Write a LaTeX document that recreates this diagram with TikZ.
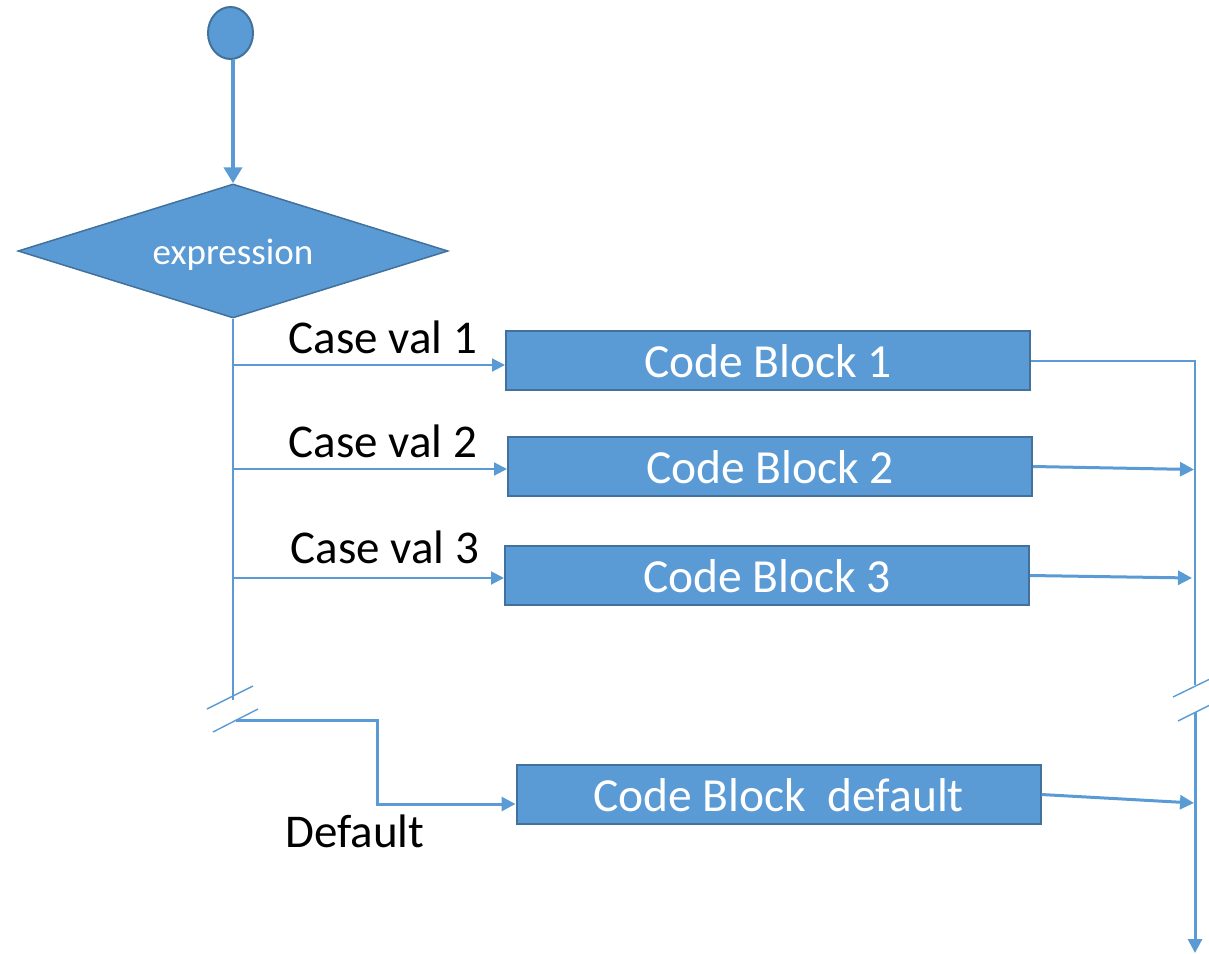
\documentclass[tikz,border=0pt]{standalone}
\usepackage{fontspec}
\setmainfont{Carlito}
\usetikzlibrary{shapes.geometric,arrows.meta}
\definecolor{obl}{HTML}{5B9BD5}
\definecolor{obd}{HTML}{41719C}
\begin{document}
\begin{tikzpicture}[x=1pt,y=-1pt,
  blk/.style={rectangle,fill=obl,draw=obd,line width=2pt,minimum width=524pt,minimum height=59pt,inner sep=0pt,text=white,font=\fontsize{47.5}{50}\selectfont,text height=33pt,text depth=0pt},
  lbl/.style={anchor=base,font=\fontsize{47}{50}\selectfont,inner sep=0pt},
  thinln/.style={draw=obl,line width=1.4pt},
  medln/.style={draw=obl,line width=2pt},
  thickln/.style={draw=obl,line width=3pt},
  tipS/.style={-{Triangle[length=14pt,width=14pt]}},
  tipL/.style={-{Triangle[length=13pt,width=13pt]}},
  brk/.style={draw=obl,line width=1.4pt}
]
\useasboundingbox (0,0) rectangle (1209,953);

% nodes
\node[ellipse,fill=obl,draw=obd,line width=2pt,minimum width=45pt,minimum height=52pt,inner sep=0pt] (start) at (230.5,33) {};
\node[diamond,fill=obl,draw=obd,line width=1.5pt,minimum width=430pt,minimum height=134pt,aspect=3.2,inner sep=0pt,text=white,font=\fontsize{37}{40}\selectfont,text height=26pt,text depth=0pt] (dia) at (233,251) {expression};

\node[blk] (cb1) at (768,360.5) {Code Block 1};
\node[blk] (cb2) at (770,466.5) {Code Block 2};
\node[blk] (cb3) at (767,575.5) {Code Block 3};
\node[blk] (cbd) at (778.5,794.5) {Code Block\ \ default};

\node[lbl] (l1) at (383,353) {Case val 1};
\node[lbl] (l2) at (383,457) {Case val 2};
\node[lbl] (l3) at (385,563) {Case val 3};
\node[lbl] (ld) at (355,847) {Default};

% coordinates
\coordinate (t1) at (233,365);
\coordinate (t2) at (233,469);
\coordinate (t3) at (233,578);
\coordinate (tb) at (233,700);
\coordinate (d0) at (236,720);
\coordinate (d1) at (377,720);
\coordinate (d2) at (377,804);
\coordinate (r1) at (1195,361);
\coordinate (r2) at (1194,469.5);
\coordinate (r3) at (1192,578);
\coordinate (rb) at (1195,685);
\coordinate (rt) at (1195,712);
\coordinate (rd) at (1194,803);
\coordinate (re) at (1195,953);

% start arrow
\draw[draw=obl,line width=4pt,-{Triangle[length=16pt,width=18pt]}] (dia.north |- start.south) -- (dia.north);

% trunk
\draw[thinln] (dia.south) -- (tb);
\draw[medln,tipL] (t1) -- (t1 -| cb1.west);
\draw[medln,tipL] (t2) -- (t2 -| cb2.west);
\draw[medln,tipL] (t3) -- (t3 -| cb3.west);

% left break
\draw[brk] (207,709) -- (253,686);
\draw[brk] (213,732) -- (258,709);

% default path
\draw[thickln,tipS] (d0) -- (d1) -- (d2) -- (d2 -| cbd.west);

% right side
\draw[thinln] (cb1.east |- r1) -- (r1) -- (rb);
\draw[thickln,tipS] (cb2.east) -- (r2);
\draw[thickln,tipS] (cb3.east) -- (r3);
\draw[thickln,tipS] (cbd.east) -- (rd);
\draw[brk] (1173,697) -- (1212,678);
\draw[brk] (1178,721) -- (1212,704);
\draw[thickln,tipS] (rt) -- (re);
\end{tikzpicture}
\end{document}
